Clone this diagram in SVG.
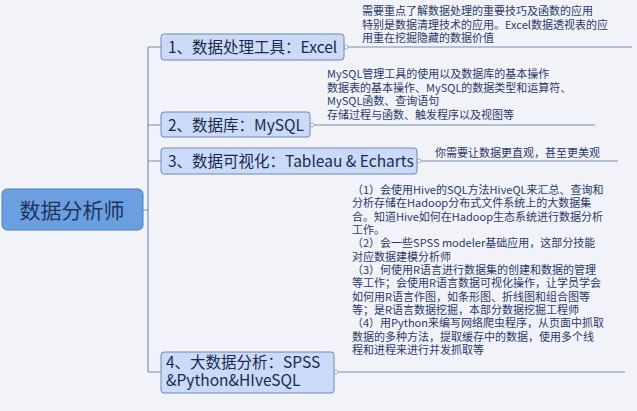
<svg xmlns="http://www.w3.org/2000/svg" width="637" height="411" viewBox="0 0 637 411">
<style>
.b{fill:#cbdaf6;stroke:#7088b4;stroke-width:1}
.bt{font-family:"Noto Sans CJK SC","Liberation Sans",sans-serif;font-size:15.5px;fill:#1a2a50}
.n{font-family:"Noto Sans CJK SC","Liberation Sans",sans-serif;font-size:11px;fill:#2a3a6a}
.l{stroke:#7a8fb0;stroke-width:1.2;fill:none}
.c{fill:#fff;stroke:#8a9ab8;stroke-width:0.8}
</style>
<rect width="637" height="411" fill="#f1f3f8"/>
<g id="connectors">
<path class="l" d="M143 210H148M148 47V372M148 47H161M148 125H161M148 161H161M148 372H161"/>
<path class="l" d="M347 47H632M313 125H595M420 161H618M337 372H625"/>
<circle class="c" cx="346" cy="47" r="2"/><circle class="c" cx="312" cy="125" r="2"/>
<circle class="c" cx="419" cy="161" r="2"/><circle class="c" cx="336" cy="372" r="2"/>
</g>
<g id="root"><rect x="2" y="189" width="141" height="41" rx="5" fill="#6b9fe0" stroke="#4f7fbf"/>
<text x="72" y="218" text-anchor="middle" font-family="Noto Sans CJK SC,sans-serif" font-size="21" fill="#1e3560">数据分析师</text></g>
<g id="n1"><rect class="b" x="161" y="34" width="183" height="26" rx="3"/><text class="bt" x="168" y="53">1、数据处理工具：Excel</text>
<text class="n"><tspan x="362" y="15">需要重点了解数据处理的重要技巧及函数的应用</tspan><tspan x="362" y="29">特别是数据清理技术的应用。Excel数据透视表的应</tspan><tspan x="362" y="42">用重在挖掘隐藏的数据价值</tspan></text></g>
<g id="n2"><rect class="b" x="161" y="112" width="149" height="25" rx="3"/><text class="bt" x="168" y="131">2、数据库：MySQL</text>
<text class="n"><tspan x="327" y="78">MySQL管理工具的使用以及数据库的基本操作</tspan><tspan x="327" y="92">数据表的基本操作、MySQL的数据类型和运算符、</tspan><tspan x="327" y="105">MySQL函数、查询语句</tspan><tspan x="327" y="119">存储过程与函数、触发程序以及视图等</tspan></text></g>
<g id="n3"><rect class="b" x="161" y="148" width="256" height="26" rx="3"/><text class="bt" x="168" y="167">3、数据可视化：Tableau &amp; Echarts</text>
<text class="n" x="435" y="157">你需要让数据更直观，甚至更美观</text></g>
<g id="n4"><rect class="b" x="161" y="352" width="173" height="41" rx="3"/><text class="bt"><tspan x="166" y="368">4、大数据分析：SPSS</tspan><tspan x="166" y="386">&amp;Python&amp;HIveSQL</tspan></text>
<text class="n"><tspan x="352" y="194">（1）会使用Hive的SQL方法HiveQL来汇总、查询和</tspan><tspan x="352" y="207">分析存储在Hadoop分布式文件系统上的大数据集</tspan><tspan x="352" y="221">合。知道Hive如何在Hadoop生态系统进行数据分析</tspan><tspan x="352" y="234">工作。</tspan><tspan x="352" y="247">（2）会一些SPSS modeler基础应用，这部分技能</tspan><tspan x="352" y="261">对应数据建模分析师</tspan><tspan x="352" y="274">（3）何使用R语言进行数据集的创建和数据的管理</tspan><tspan x="352" y="287">等工作；会使用R语言数据可视化操作，让学员学会</tspan><tspan x="352" y="301">如何用R语言作图，如条形图、折线图和组合图等</tspan><tspan x="352" y="314">等；是R语言数据挖掘，本部分数据挖掘工程师</tspan><tspan x="352" y="327">（4）用Python来编写网络爬虫程序，从页面中抓取</tspan><tspan x="352" y="341">数据的多种方法，提取缓存中的数据，使用多个线</tspan><tspan x="352" y="354">程和进程来进行并发抓取等</tspan></text></g>
</svg>
